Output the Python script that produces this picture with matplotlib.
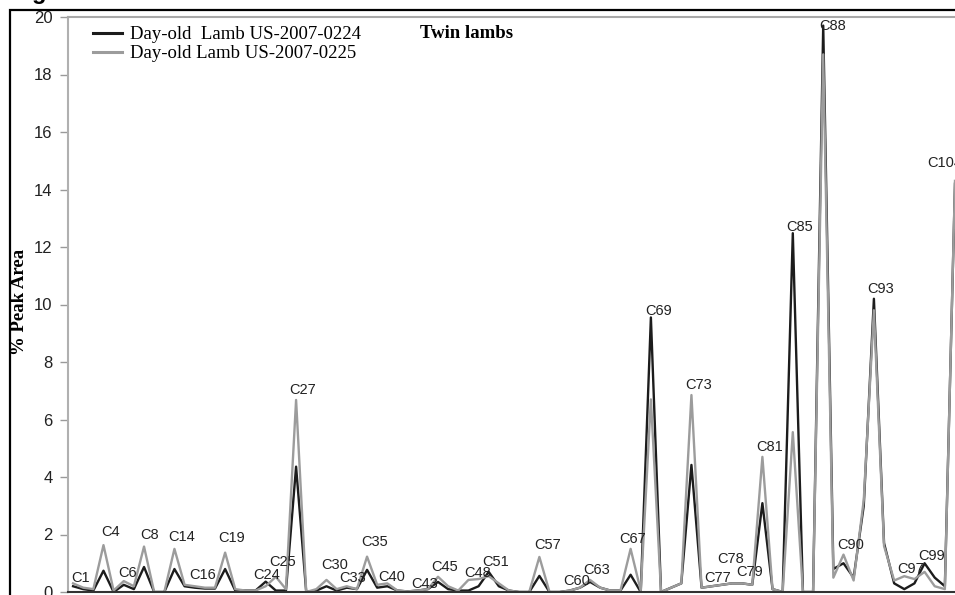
import numpy as np
import matplotlib.pyplot as plt
from matplotlib.patches import Rectangle

# % peak area per compound (one value per plotted point)
lamb_0224 = [0.2, 0.1, 0.05, 0.74, 0.0, 0.25, 0.1, 0.87, 0.0, 0.0,
             0.8, 0.2, 0.15, 0.12, 0.12, 0.8, 0.05, 0.05, 0.05, 0.36,
             0.05, 0.05, 4.36, 0.0, 0.05, 0.2, 0.05, 0.15, 0.1, 0.77,
             0.15, 0.2, 0.05, 0.02, 0.05, 0.1, 0.35, 0.1, 0.05, 0.05,
             0.2, 0.7, 0.2, 0.05, 0.0, 0.0, 0.56, 0.0, 0.0, 0.05,
             0.15, 0.35, 0.15, 0.05, 0.05, 0.6, 0.0, 9.55, 0.0, 0.15,
             0.3, 4.42, 0.15, 0.2, 0.25, 0.3, 0.3, 0.25, 3.09, 0.1,
             0.0, 12.48, 0.0, 0.0, 19.7, 0.8, 1.0, 0.5, 3.0, 10.2,
             1.7, 0.3, 0.1, 0.3, 1.0, 0.5, 0.2, 14.2]
lamb_0225 = [0.3, 0.15, 0.1, 1.63, 0.05, 0.38, 0.2, 1.58, 0.0, 0.0,
             1.5, 0.25, 0.2, 0.15, 0.15, 1.37, 0.1, 0.05, 0.05, 0.2,
             0.53, 0.1, 6.68, 0.0, 0.1, 0.42, 0.1, 0.2, 0.1, 1.23,
             0.25, 0.3, 0.05, 0.02, 0.05, 0.1, 0.53, 0.2, 0.05, 0.42,
             0.45, 0.55, 0.3, 0.05, 0.0, 0.0, 1.22, 0.0, 0.0, 0.05,
             0.15, 0.42, 0.15, 0.05, 0.05, 1.5, 0.05, 6.7, 0.0, 0.15,
             0.3, 6.85, 0.15, 0.2, 0.25, 0.3, 0.3, 0.25, 4.7, 0.1,
             0.0, 5.56, 0.0, 0.0, 18.7, 0.5, 1.3, 0.4, 3.2, 9.8,
             1.6, 0.4, 0.55, 0.45, 0.7, 0.2, 0.1, 14.3]

# compound labels and the point they belong to
peak_names = ["C1", "C4", "C6", "C8", "C14", "C16", "C19", "C24", "C25", "C27",
              "C30", "C33", "C35", "C40", "C43", "C45", "C48", "C51", "C57", "C60",
              "C63", "C67", "C69", "C73", "C77", "C78", "C79", "C81", "C85", "C88",
              "C90", "C93", "C97", "C99", "C104"]
peak_points = [0, 3, 5, 7, 10, 13, 15, 19, 20, 22,
               25, 27, 29, 31, 34, 36, 39, 41, 46, 49,
               51, 55, 57, 61, 63, 65, 67, 68, 71, 74,
               76, 79, 82, 84, 87]

series_names = ["Day-old  Lamb US-2007-0224", "Day-old Lamb US-2007-0225"]
y_ticks = [0, 2, 4, 6, 8, 10, 12, 14, 16, 18, 20]

W, H = 955, 595
fig = plt.figure(figsize=(W / 100, H / 100), dpi=100)

def px(x, y):
    return x / W, 1 - y / H

# outer frame of the scanned figure
fig.patches.append(Rectangle(px(10, 620), 1.2, (620 - 10) / H, transform=fig.transFigure,
                             fill=False, ec="black", lw=1.6))
fig.text(32 / W, 1 + 1 / H, "g", fontsize=17, fontweight="bold", family="Liberation Sans",
         va="baseline", ha="left")

ax = fig.add_axes([68 / W, 3 / H, (W - 68) / W, 575 / H])
x = np.arange(len(lamb_0224))
ax.plot(x, lamb_0224, color="#1c1c1c", lw=1.7, label=series_names[0])
ax.plot(x, lamb_0225, color="#9c9c9c", lw=1.7, label=series_names[1])

ax.set_xlim(-0.5, 87.0)
ax.set_ylim(0, 20)
ax.set_xticks([])
ax.set_yticks(y_ticks)
ax.tick_params(axis="y", length=6, width=1.0, color="#9a9a9a", pad=5,
               labelsize=12, labelcolor="#222222")
for t in ax.get_yticklabels():
    t.set_family("Liberation Sans")
ax.spines["right"].set_visible(False)
ax.spines["left"].set_color("#b0b0b0")
ax.spines["top"].set_color("#a8a8a8")
ax.spines["left"].set_linewidth(1.5)
ax.spines["top"].set_linewidth(1.5)
ax.spines["bottom"].set_color("#333333")
ax.spines["bottom"].set_linewidth(1.5)

# label offsets in pixels (dx, dy above the higher of the two lines)
tweak = {"C1": (7, 5), "C4": (7, 13), "C6": (4, 8), "C8": (6, 12), "C14": (7, 12),
         "C16": (-2, 13), "C19": (6, 15), "C24": (1, 7), "C25": (7, 15), "C30": (8, 15),
         "C33": (6, 8), "C35": (8, 15), "C40": (4, 6), "C43": (7, 7), "C48": (9, 7),
         "C57": (8, 12), "C67": (2, 10), "C69": (8, 6), "C77": (6, 8), "C78": (-1, 24),
         "C79": (-3, 13), "C85": (7, 6), "C88": (9, 0), "C97": (6, 7), "C99": (7, 7),
         "C104": (-10, 18)}
for name, i in zip(peak_names, peak_points):
    top = max(lamb_0224[i], lamb_0225[i])
    dx, dy = tweak.get(name, (7, 10))
    ax.annotate(name, (i, top), xytext=(dx, dy), textcoords="offset pixels",
                ha="center", va="center", fontsize=10.5, family="Liberation Sans",
                color="#222222", annotation_clip=False)

fig.text(467 / W, 1 - 34 / H, "Twin lambs", fontsize=13.5, fontweight="bold",
         family="Liberation Serif", ha="center", va="center")
fig.text(20 / W, 1 - 302 / H, "% Peak Area", fontsize=13.5, fontweight="bold",
         family="Liberation Serif", rotation=90, ha="center", va="center")

leg = ax.legend(loc="upper left", bbox_to_anchor=px(93, 26), bbox_transform=fig.transFigure,
                frameon=False, handlelength=1.55, handletextpad=0.43, labelspacing=0.12,
                prop={"family": "Liberation Serif", "size": 13.5}, borderaxespad=0,
                borderpad=0)
for line in leg.get_lines():
    line.set_linewidth(2.2)

fig.savefig("out.png", dpi=100)
